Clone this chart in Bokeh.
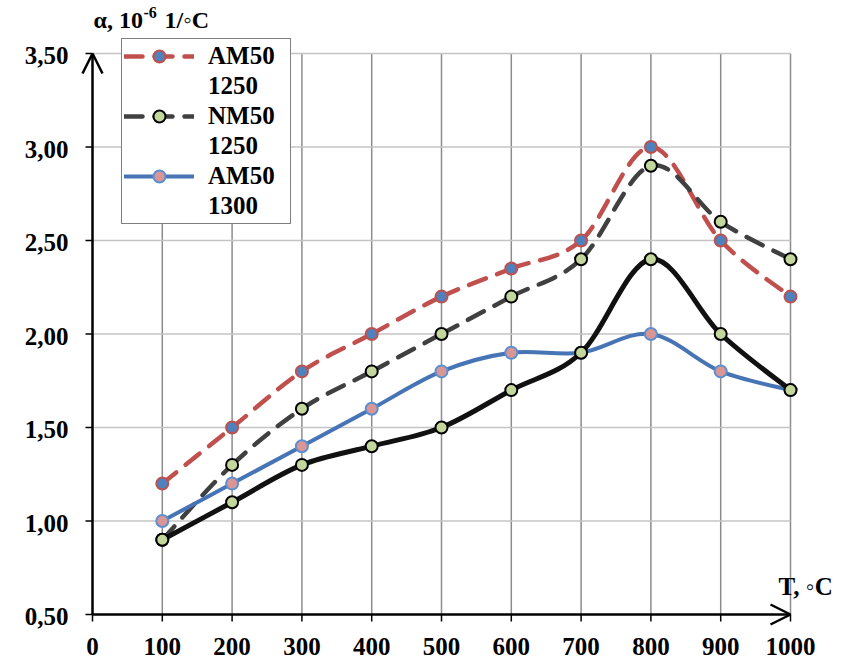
import numpy as np
from bokeh.plotting import figure
from bokeh.models import (Arrow, OpenHead, Label, Legend, LegendItem,
                          Range1d, ColumnDataSource)
from bokeh.core.properties import value
from bokeh.embed import file_html
from bokeh.resources import INLINE

# ---------------- data ----------------
temps = [100, 200, 300, 400, 500, 600, 700, 800, 900, 1000]
am50_1250 = [1.20, 1.50, 1.80, 2.00, 2.20, 2.35, 2.50, 3.00, 2.50, 2.20]
nm50_1250 = [0.90, 1.30, 1.60, 1.80, 2.00, 2.20, 2.40, 2.90, 2.60, 2.40]
am50_1300 = [1.00, 1.20, 1.40, 1.60, 1.80, 1.90, 1.90, 2.00, 1.80, 1.70]
series_4 = [0.90, 1.10, 1.30, 1.40, 1.50, 1.70, 1.90, 2.40, 2.00, 1.70]

x_ticks = [0, 100, 200, 300, 400, 500, 600, 700, 800, 900, 1000]
x_tick_labels = ["0", "100", "200", "300", "400", "500", "600", "700", "800",
                 "900", "1000"]
y_ticks = [0.5, 1.0, 1.5, 2.0, 2.5, 3.0, 3.5]
y_tick_labels = ["0,50", "1,00", "1,50", "2,00", "2,50", "3,00", "3,50"]
legend_labels = [["AM50", "1250"], ["NM50", "1250"], ["AM50", "1300"]]
y_title = ["α, 10", "-6", "1/◦C"]
x_title = "T, ◦C"

FONT = "Liberation Serif"

# ---------------- layout (pixels) ----------------
W, H = 841, 660
AX_LEFT, AX_RIGHT = 92, 790      # pixel x of T=0 and T=1000
AX_TOP, AX_BOTTOM = 53, 614      # pixel y of 3.50 and 0.50
X0, X1 = x_ticks[0], x_ticks[-1]
Y0, Y1 = y_ticks[0], y_ticks[-1]
DX = (X1 - X0) / (AX_RIGHT - AX_LEFT)   # data units per pixel
DY = (Y1 - Y0) / (AX_BOTTOM - AX_TOP)
TICK = 7


def bezier_source(xs, ys):
    """Excel-like smoothed line: cubic Bezier segments through the data points."""
    P = np.column_stack([xs, ys]).astype(float)
    Q = np.vstack([P[0], P, P[-1]])
    d = dict(x0=[], y0=[], x1=[], y1=[], cx0=[], cy0=[], cx1=[], cy1=[])
    for i in range(1, len(Q) - 2):
        p0, p1, p2, p3 = Q[i - 1], Q[i], Q[i + 1], Q[i + 2]
        c1 = p1 + (p2 - p0) / 6.0
        c2 = p2 - (p3 - p1) / 6.0
        d["x0"].append(p1[0]); d["y0"].append(p1[1])
        d["x1"].append(p2[0]); d["y1"].append(p2[1])
        d["cx0"].append(c1[0]); d["cy0"].append(c1[1])
        d["cx1"].append(c2[0]); d["cy1"].append(c2[1])
    return ColumnDataSource(d)


p = figure(width=W, height=H, output_backend="svg", toolbar_location=None,
           x_axis_type=None, y_axis_type=None,
           x_range=Range1d(X0 - AX_LEFT * DX, X1 + (W - AX_RIGHT) * DX),
           y_range=Range1d(Y0 - (H - AX_BOTTOM) * DY, Y1 + AX_TOP * DY),
           min_border=0, min_border_left=0, min_border_right=0,
           min_border_top=0, min_border_bottom=0)
p.outline_line_color = None
p.background_fill_color = "white"
p.border_fill_color = "white"
p.grid.visible = False

# grid lines
p.segment(x0=x_ticks[1:], y0=[Y0] * (len(x_ticks) - 1), x1=x_ticks[1:],
          y1=[Y1] * (len(x_ticks) - 1), line_color="#8C8C8C", line_width=1.5)
p.segment(x0=[X0] * (len(y_ticks) - 1), y0=y_ticks[1:],
          x1=[X1] * (len(y_ticks) - 1), y1=y_ticks[1:],
          line_color="#C4C4C4", line_width=1.5)

# tick marks
p.segment(x0=x_ticks, y0=[Y0] * len(x_ticks), x1=x_ticks,
          y1=[Y0 - TICK * DY] * len(x_ticks), line_color="black", line_width=1.5)
p.segment(x0=[X0] * len(y_ticks), y0=y_ticks, x1=[X0 - TICK * DX] * len(y_ticks),
          y1=y_ticks, line_color="black", line_width=1.5)

# tick labels
p.text(x=x_ticks, y=[Y0 - 23 * DY] * len(x_ticks), text=x_tick_labels,
       text_align="center", text_baseline="top", text_font=value(FONT),
       text_font_style="bold", text_font_size="25px", text_color="black")
p.text(x=[X0 - 24 * DX] * len(y_ticks), y=[t - 2 * DY for t in y_ticks],
       text=y_tick_labels, text_align="right", text_baseline="middle",
       text_font=value(FONT), text_font_style="bold", text_font_size="25px",
       text_color="black")

styles = [
    dict(ys=am50_1250, color="#C0504D", width=4.5, dash="18 12",
         fill="#4F81BD", edge="#C0504D"),
    dict(ys=nm50_1250, color="#404040", width=4.5, dash="18 12",
         fill="#C3D69B", edge="black"),
    dict(ys=am50_1300, color="#4674B4", width=4, dash="solid",
         fill="#D99694", edge="#5B8FD0"),
    dict(ys=series_4, color="#111111", width=5, dash="solid",
         fill="#C3D69B", edge="black"),
]

renderers = []
for s in styles:
    src = bezier_source(temps, s["ys"])
    r_line = p.bezier(x0="x0", y0="y0", x1="x1", y1="y1", cx0="cx0", cy0="cy0",
                      cx1="cx1", cy1="cy1", source=src, line_color=s["color"],
                      line_width=s["width"], line_dash=s["dash"], line_cap="round")
    r_pts = p.scatter(temps, s["ys"], size=12, fill_color=s["fill"],
                      line_color=s["edge"], line_width=2)
    renderers.append((r_line, r_pts))

# axis arrows
head = dict(size=20, line_width=2.5, line_color="black")
p.add_layout(Arrow(end=OpenHead(**head), x_start=X0, y_start=Y0, x_end=X1,
                   y_end=Y0, line_width=2.5, line_color="black"))
p.add_layout(Arrow(end=OpenHead(**head), x_start=X0, y_start=Y0, x_end=X0,
                   y_end=Y1, line_width=2.5, line_color="black"))

# legend rows (second text line uses an invisible placeholder renderer)
blank = p.line(x=[], y=[], line_alpha=0)
items = []
for (r_line, r_pts), lab in zip(renderers[:3], legend_labels):
    items.append(LegendItem(label=lab[0], renderers=[r_line, r_pts]))
    items.append(LegendItem(label=lab[1], renderers=[blank]))

legend = Legend(items=items, location=(121, H - 224), orientation="vertical",
                border_line_color="black", border_line_width=1.5,
                background_fill_color="white", background_fill_alpha=1,
                padding=2, spacing=0, margin=0, label_height=30, label_width=80,
                glyph_height=30, glyph_width=70, label_standoff=14,
                label_text_font=FONT, label_text_font_style="bold",
                label_text_font_size="25px", label_text_color="black")
p.add_layout(legend, "center")

# axis titles
common = dict(text_font=FONT, text_font_style="bold", text_color="black",
              text_baseline="alphabetic")
p.add_layout(Label(x=X0, y=Y1, x_offset=1, y_offset=34, text=y_title[0],
                   text_font_size="24px", **common))
p.add_layout(Label(x=X0, y=Y1, x_offset=51, y_offset=41, text=y_title[1],
                   text_font_size="16px", **common))
p.add_layout(Label(x=X0, y=Y1, x_offset=72, y_offset=34, text=y_title[2],
                   text_font_size="24px", **common))
p.add_layout(Label(x=X1, y=Y0, x_offset=-12, y_offset=28, text=x_title,
                   text_font_size="25px", **common))

open("out.html", "w").write(file_html(p, INLINE))
